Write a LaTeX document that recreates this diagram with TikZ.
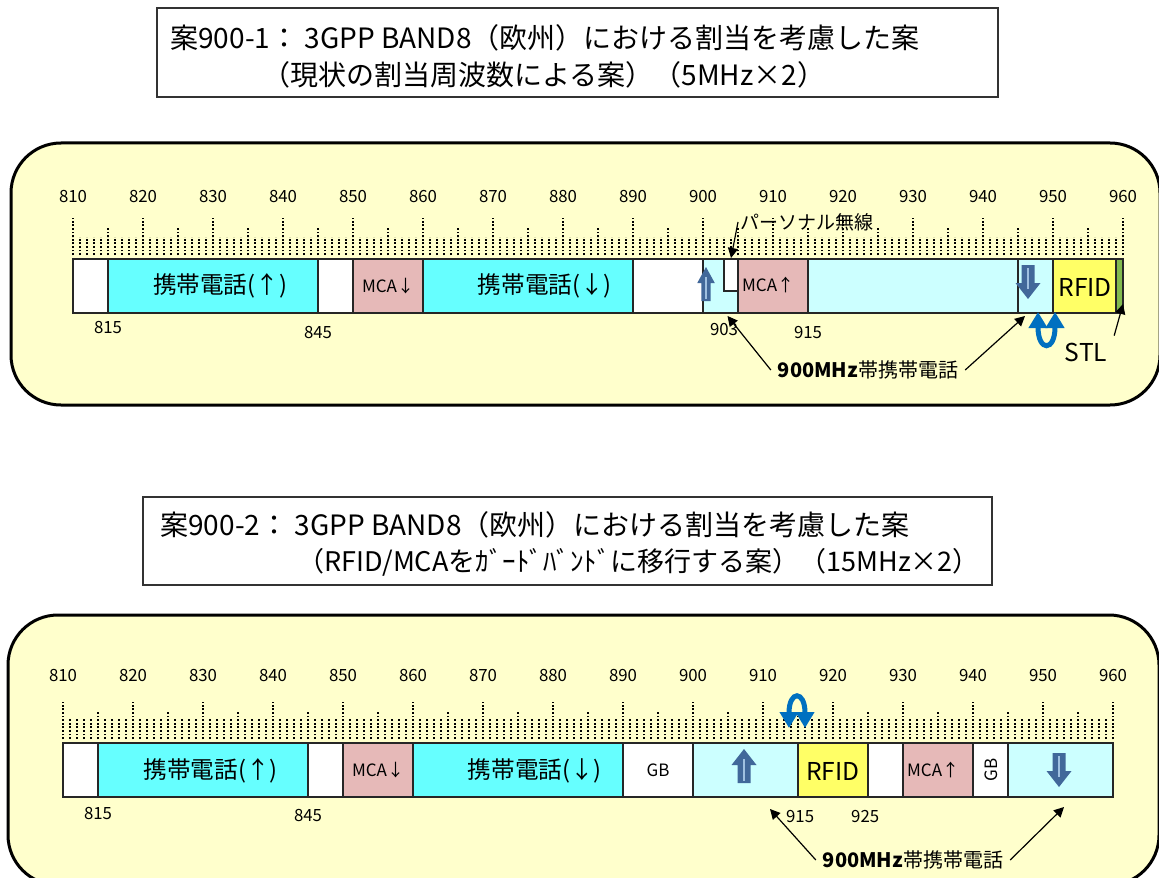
\documentclass[tikz,border=0pt]{standalone}
\usepackage{fontspec}
\setmainfont{Noto Sans CJK JP}
\usepackage{tikz}
\usetikzlibrary{arrows.meta}

\definecolor{panelyellow}{HTML}{FFFFCC}
\definecolor{bandcyan}{HTML}{66FFFF}
\definecolor{bandpale}{HTML}{CCFFFF}
\definecolor{mcapink}{HTML}{E6B9B8}
\definecolor{rfidyellow}{HTML}{FFFF66}
\definecolor{stlgreen}{HTML}{82BA4E}
\definecolor{swapblue}{HTML}{0070C0}
\definecolor{blockblue}{HTML}{41689A}
\definecolor{blocklight}{HTML}{9FC0E0}

\tikzset{
  tickline/.style={black, line width=0.9pt, dash pattern=on 0.9pt off 0.9pt},
  num/.style={font=\fontsize{8.4}{9}\selectfont, inner sep=0pt},
  band/.style={draw=black!85, line width=0.6pt},
  bandtxt/.style={font=\fontsize{11.8}{13}\selectfont},
  bigtxt/.style={font=\fontsize{12.3}{13}\selectfont},
  smalltxt/.style={font=\fontsize{8.5}{10}\selectfont},
  midtxt/.style={font=\fontsize{10}{11}\selectfont},
  ptr/.style={-{Triangle[length=5pt,width=5pt]}, line width=0.6pt},
  swaparrow/.style={swapblue, line width=2.5pt,
    {Triangle[length=8pt,width=9pt]}-{Triangle[length=8pt,width=9pt]}},
  panel/.style={draw=black, line width=1.5pt, fill=panelyellow, rounded corners=25pt},
  titlebox/.style={draw=black!80, line width=0.8pt, fill=white},
  titletxt/.style={font=\fontsize{14}{16}\selectfont, anchor=west, inner sep=0pt},
  upblock/.pic={
    \fill[blockblue] (0,-17) -- (12.5,-1) -- (6.5,-1) -- (6.5,17) -- (-6.5,17)
      -- (-6.5,-1) -- (-12.5,-1) -- cycle;
    \draw[blocklight, line width=0.8pt] (0,-7) -- (0,14.5);
  }
}

\begin{document}
\begin{tikzpicture}[x=0.5pt, y=-0.5pt]
\useasboundingbox (0,0) rectangle (1159,877);

% --- case 900-1 ---
\draw[titlebox] (157,8) rectangle (998,97);
\node[titletxt] (ttlA) at (170,38) {案900-1：\ 3GPP BAND8（欧州）における割当を考慮した案};
\node[titletxt] (ttlB) at (262,75) {（現状の割当周波数による案）（5MHz×2）};

\draw[panel] (11,143) rectangle (1160,405);

\begin{scope}[x=3.5pt, xshift=-2798.5pt]
  \foreach \f in {810,...,960} \draw[tickline] (\f,255) -- (\f,237);
  \foreach \f in {815,825,...,955} \draw[tickline] (\f,255) -- (\f,227);
  \foreach \f in {810,820,...,960} {
    \draw[tickline] (\f,255) -- (\f,218);
    \node[num] (ta\f) at (\f,197) {\f};
  }
  \foreach \a/\b/\c in {810/815/white, 815/845/bandcyan, 845/850/white,
      850/860/mcapink, 860/890/bandcyan, 890/900/white, 900/905/bandpale,
      905/915/mcapink, 915/945/bandpale, 945/950/bandpale,
      950/959/rfidyellow, 959/960/stlgreen}
    \draw[band, fill=\c] (\a,259) rectangle (\b,313);
  \draw[band, fill=white] (903,259) rectangle (905,291);

  \node[bandtxt] (upA) at (831,286) {携帯電話(↑)};
  \node[smalltxt] (mcaA) at (855,286) {MCA↓};
  \node[bandtxt] (dnA) at (877.4,286) {携帯電話(↓)};
  \node[smalltxt] (mcaB) at (909.3,285) {MCA↑};
  \node[bigtxt] (rfidA) at (954.6,287) {RFID};

  \node[num] (na815) at (815,328) {815};
  \node[num] (na845) at (845,333) {845};
  \node[num] (na903) at (903,330) {903};
  \node[num] (na915) at (915,333) {915};

  \coordinate (persTip) at (904,258);
  \coordinate (mobTipA) at (903.5,316);
  \coordinate (mobTipB) at (946,316);
  \coordinate (stlTip) at (960,304);
\end{scope}

\pic[xscale=0.7] at (706,284) {upblock};
\pic[rotate=180] at (1028,282) {upblock};
\draw[swaparrow] (1038,312) .. controls (1038,352) and (1055,352) .. (1055,312);

\node[font=\fontsize{9.5}{10}\selectfont, anchor=west, inner sep=1pt] (pers) at (738,222) {パーソナル無線};
\draw[ptr] (pers.west) -- (persTip);
\node[midtxt] (mobA) at (868,370) {\textbf{900MHz}帯携帯電話};
\draw[ptr] (mobA.west) -- (mobTipA);
\draw[ptr] (mobA.east) -- (mobTipB);
\node[bigtxt] (stl) at (1086,352) {STL};
\draw[ptr] (stl.north east) -- (stlTip);

% --- case 900-2 ---
\draw[titlebox] (143,497) rectangle (992,585);
\node[titletxt] (ttlC) at (160,525) {案900-2：\ 3GPP BAND8（欧州）における割当を考慮した案};
\node[titletxt, font=\fontsize{13.5}{16}\selectfont] (ttlD) at (297,562) {（RFID/MCAをｶﾞｰﾄﾞﾊﾞﾝﾄﾞに移行する案）（15MHz×2）};

\draw[panel] (8,615) rectangle (1159,885);

\begin{scope}[x=3.5pt, xshift=-2803.5pt]
  \foreach \f in {810,...,960} \draw[tickline] (\f,739) -- (\f,719);
  \foreach \f in {815,825,...,955} \draw[tickline] (\f,739) -- (\f,711);
  \foreach \f in {810,820,...,960} {
    \draw[tickline] (\f,739) -- (\f,702);
    \node[num] (tb\f) at (\f,675) {\f};
  }
  \foreach \a/\b/\c in {810/815/white, 815/845/bandcyan, 845/850/white,
      850/860/mcapink, 860/890/bandcyan, 890/900/white, 900/915/bandpale,
      915/925/rfidyellow, 925/930/white, 930/940/mcapink, 940/945/white,
      945/960/bandpale}
    \draw[band, fill=\c] (\a,743) rectangle (\b,797);

  \node[bandtxt] (upB) at (831.1,771) {携帯電話(↑)};
  \node[smalltxt] (mcaC) at (855,770) {MCA↓};
  \node[bandtxt] (dnB) at (877.4,771) {携帯電話(↓)};
  \node[smalltxt] (gbA) at (895,770) {GB};
  \node[bigtxt] (rfidB) at (920,771) {RFID};
  \node[smalltxt] (mcaD) at (934.3,770) {MCA↑};
  \node[smalltxt, rotate=90] (gbB) at (942.6,770) {GB};

  \node[num] (nb815) at (815,813) {815};
  \node[num] (nb845) at (845,815) {845};
  \node[num] (nb915) at (915.3,816) {915};
  \node[num] (nb925) at (924.6,816) {925};

  \coordinate (mobTipC) at (911,809);
  \coordinate (mobTipD) at (953,807);
\end{scope}

\pic at (744,766) {upblock};
\pic[rotate=180] at (1059,770) {upblock};
\draw[swaparrow] (789,728) .. controls (789,690) and (805,690) .. (805,728);

\node[midtxt] (mobB) at (913,860) {\textbf{900MHz}帯携帯電話};
\draw[ptr] (mobB.west) -- (mobTipC);
\draw[ptr] (mobB.east) -- (mobTipD);
\end{tikzpicture}
\end{document}
